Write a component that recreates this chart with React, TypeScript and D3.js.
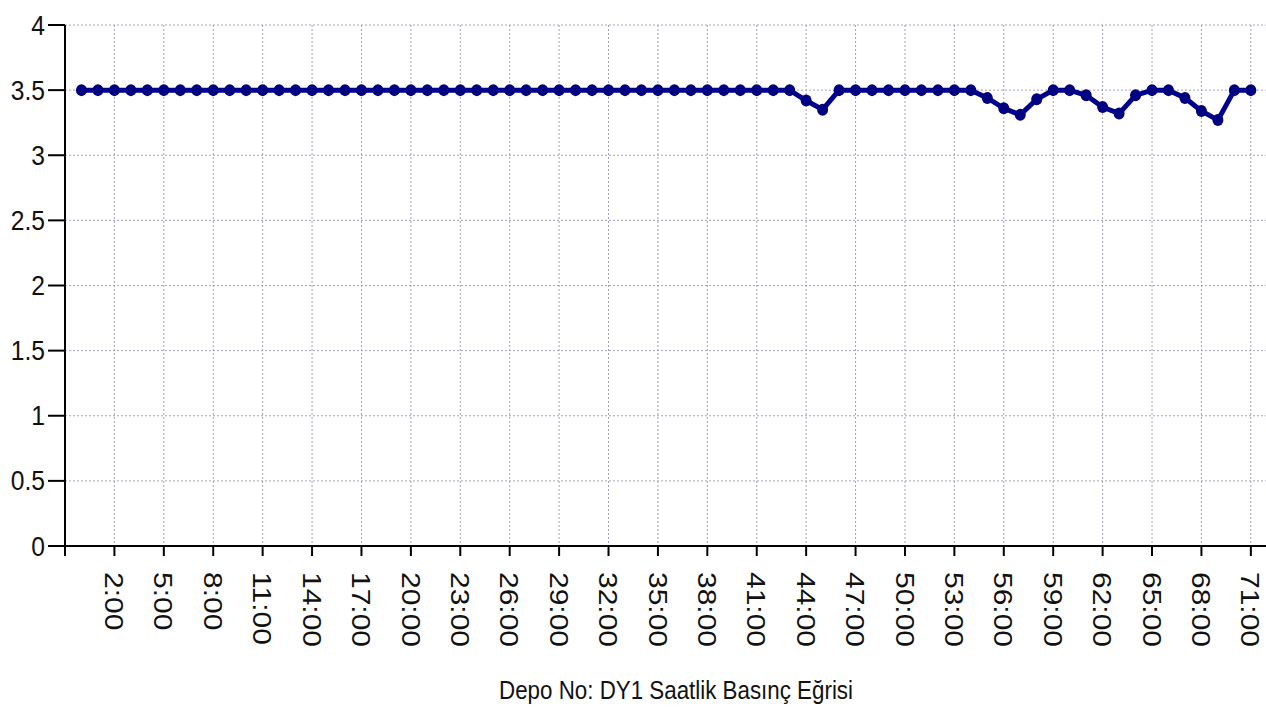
import * as d3 from 'd3';

// hourly pressure, 0:00 .. 71:00
const hours = d3.range(0, 72);
const pressure = [
  3.5, 3.5, 3.5, 3.5, 3.5, 3.5, 3.5, 3.5, 3.5, 3.5,
  3.5, 3.5, 3.5, 3.5, 3.5, 3.5, 3.5, 3.5, 3.5, 3.5,
  3.5, 3.5, 3.5, 3.5, 3.5, 3.5, 3.5, 3.5, 3.5, 3.5,
  3.5, 3.5, 3.5, 3.5, 3.5, 3.5, 3.5, 3.5, 3.5, 3.5,
  3.5, 3.5, 3.5, 3.5, 3.42, 3.35, 3.5, 3.5, 3.5, 3.5,
  3.5, 3.5, 3.5, 3.5, 3.5, 3.44, 3.36, 3.31, 3.43, 3.5,
  3.5, 3.46, 3.37, 3.32, 3.46, 3.5, 3.5, 3.44, 3.34, 3.27,
  3.5, 3.5,
];
const xTickValues = d3.range(2, 72, 3);
const yTickValues = [0, 0.5, 1, 1.5, 2, 2.5, 3, 3.5, 4];
const title = 'Depo No: DY1 Saatlik Basınç Eğrisi';

const W = 1266;
const H = 713;
const FONT = '"Liberation Sans", Arial, sans-serif';
const SX = 0.88; // the source picture is squeezed horizontally

export default function App() {
  const x = d3.scaleLinear().domain([-1, 72]).range([65, 65 + 73 * 16.47]);
  const y = d3.scaleLinear().domain([0, 4]).range([546, 25]);

  const line = d3
    .line<number>()
    .x((_, i) => x(hours[i]))
    .y((d) => y(d));

  const x0 = x(-1);
  const y0 = y(0);

  return (
    <svg
      width={W}
      height={H}
      style={{ position: 'absolute', left: 0, top: 0, background: '#fff' }}
    >
      {/* grid */}
      {yTickValues
        .filter((v) => v > 0)
        .map((v) => (
          <line
            key={'gy' + v}
            x1={x0}
            x2={W}
            y1={y(v)}
            y2={y(v)}
            stroke="#a8a0b8"
            strokeDasharray="2,2"
          />
        ))}
      {xTickValues.map((v) => (
        <line
          key={'gx' + v}
          x1={x(v)}
          x2={x(v)}
          y1={y(4)}
          y2={y0}
          stroke="#a8a0b8"
          strokeDasharray="2,2"
        />
      ))}

      {/* axes */}
      <line x1={x0} x2={x0} y1={y(4)} y2={y0 + 10} stroke="#000" strokeWidth={2} />
      <line x1={x0} x2={W} y1={y0} y2={y0} stroke="#000" strokeWidth={2} />
      {yTickValues.map((v) => (
        <g key={'ty' + v}>
          <line x1={48} x2={x0} y1={y(v)} y2={y(v)} stroke="#000" strokeWidth={2} />
          <text
            transform={`translate(45, ${y(v)}) scale(${SX}, 1)`}
            textAnchor="end"
            dominantBaseline="central"
            fontFamily={FONT}
            fontSize={28}
            fill="#111"
          >
            {v}
          </text>
        </g>
      ))}
      {xTickValues.map((v) => (
        <g key={'tx' + v}>
          <line x1={x(v)} x2={x(v)} y1={y0} y2={y0 + 10} stroke="#000" strokeWidth={2} />
          <text
            transform={`translate(${x(v)}, 572) scale(${SX}, 1) rotate(90)`}
            dominantBaseline="central"
            fontFamily={FONT}
            fontSize={30}
            fill="#111"
          >
            {v + ':00'}
          </text>
        </g>
      ))}

      {/* series */}
      <path d={line(pressure) ?? ''} fill="none" stroke="#000090" strokeWidth={5} />
      {pressure.map((d, i) => (
        <ellipse
          key={i}
          cx={x(hours[i])}
          cy={y(d)}
          rx={5.5}
          ry={6}
          fill="#000080"
        />
      ))}

      <text
        transform={`translate(676, 699) scale(0.86, 1)`}
        textAnchor="middle"
        fontFamily={FONT}
        fontSize={26}
        fill="#111"
      >
        {title}
      </text>
    </svg>
  );
}
